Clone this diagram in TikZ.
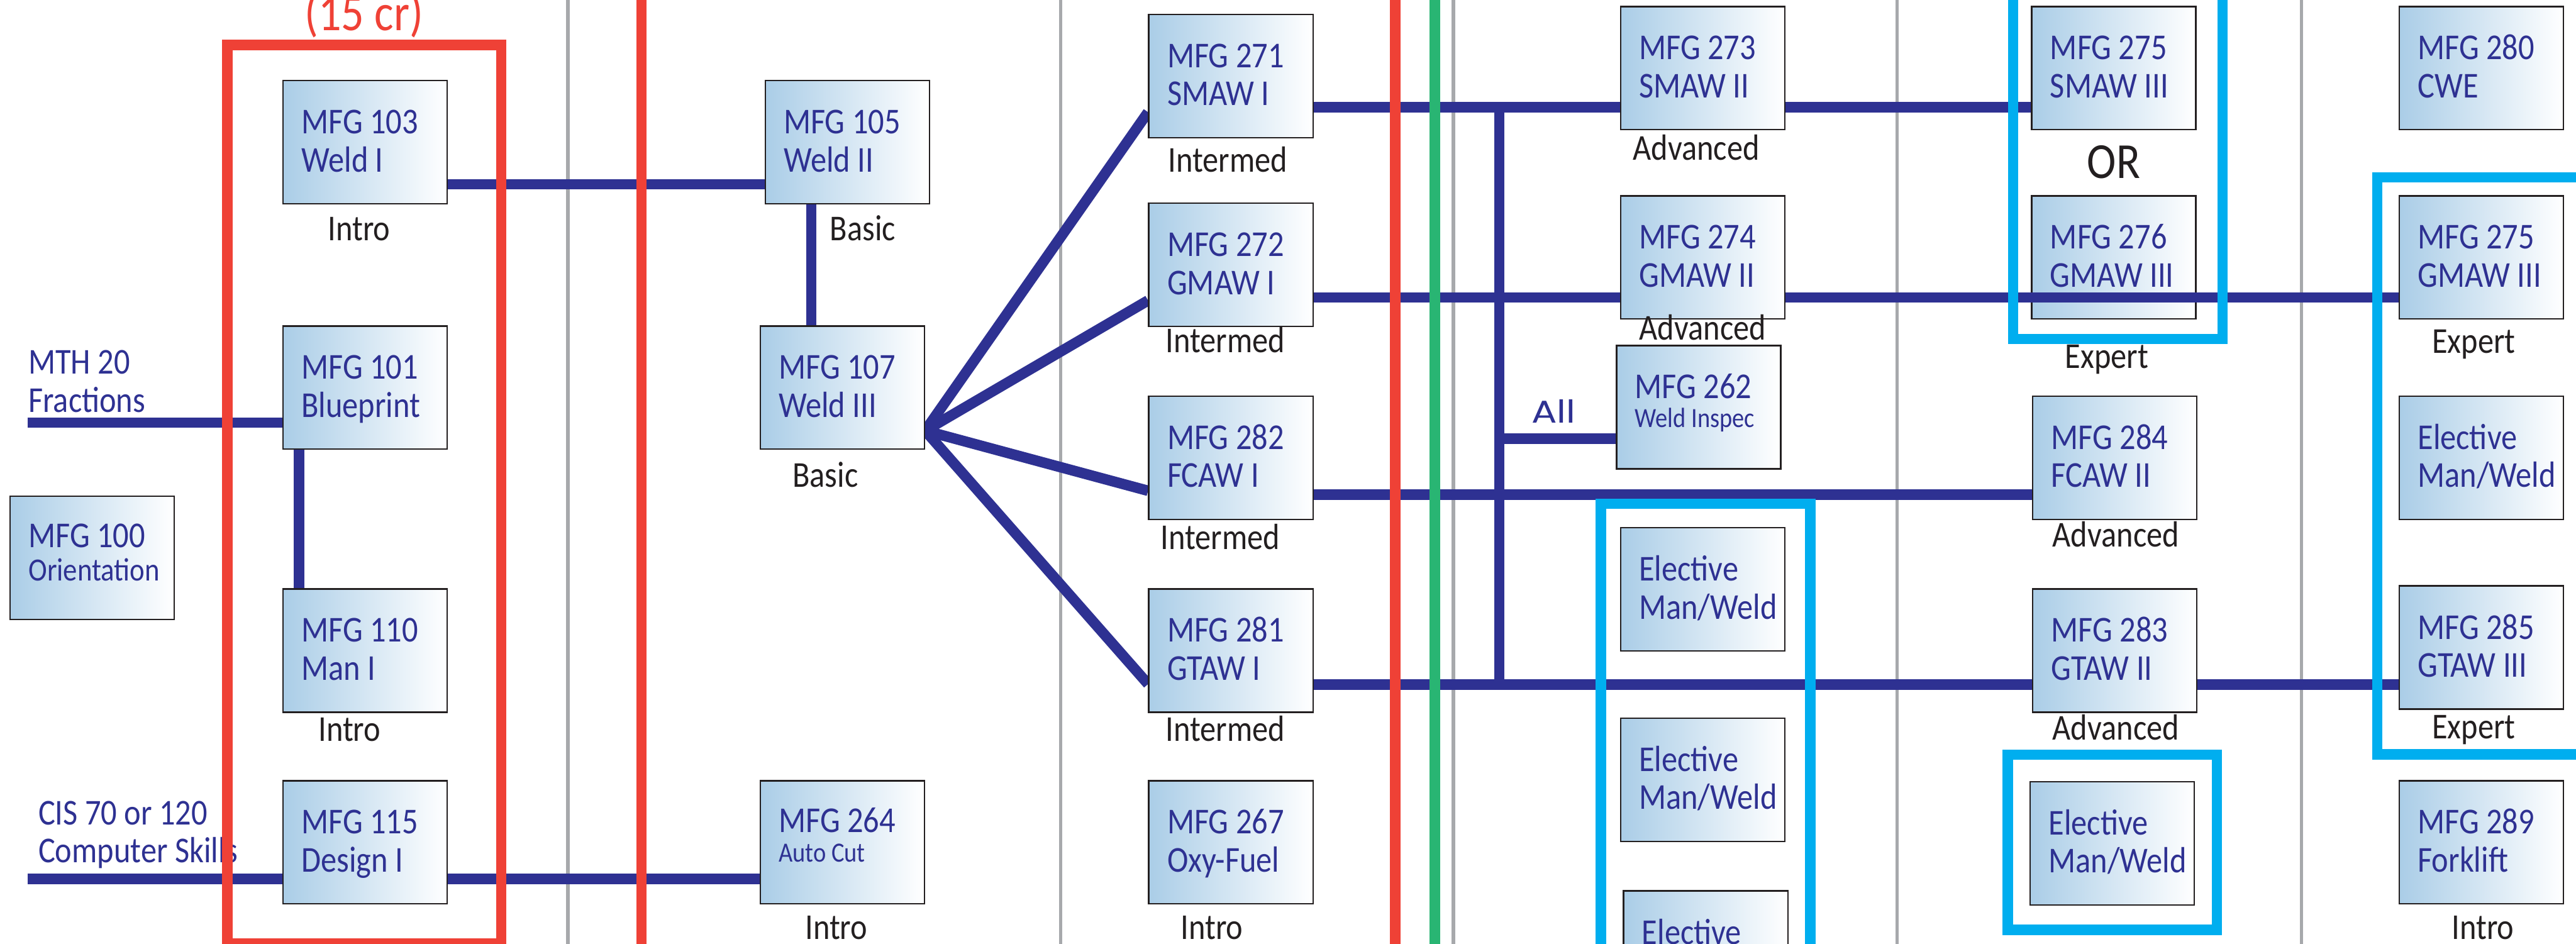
\documentclass[tikz,border=0pt]{standalone}
\usepackage{fontspec}
\usetikzlibrary{backgrounds}
\newfontfamily\boxfont{Carlito}[FakeStretch=0.87]
\newfontfamily\allfont{Poppins}[FakeStretch=1.2]
\definecolor{mfgblue}{RGB}{46,49,146}
\definecolor{boxblue}{RGB}{170,205,231}
\definecolor{boxline}{RGB}{35,31,32}
\definecolor{credred}{RGB}{239,65,54}
\definecolor{elecyan}{RGB}{0,174,239}
\definecolor{termgreen}{RGB}{41,181,115}
\definecolor{divgray}{RGB}{167,169,172}
\newcommand{\boxsize}{\fontsize{20.7}{21.6}\selectfont}

\begin{document}
\begin{tikzpicture}[x=1cm, y=-1cm]
    \tikzstyle{course} = [draw=boxline, line width=0.03cm, left color=boxblue, right color=white, minimum width=3.28cm, minimum height=2.46cm, inner xsep=0.37cm, inner ysep=0pt, text width=2.54cm, align=flush left, text=mfgblue, font=\boxfont\boxsize, execute at begin node={\rule{0pt}{.59cm}}, execute at end node={\rule[-.17cm]{0pt}{.17cm}}]
    \tikzstyle{stage} = [anchor=base, inner sep=0pt, text=boxline, font=\boxfont\boxsize]
    \tikzstyle{link} = [draw=mfgblue, line width=0.21cm]
    \tikzstyle{divider} = [draw=divgray, line width=0.07cm]
    \tikzstyle{redbox} = [draw=credred, line width=0.21cm]
    \tikzstyle{cyanbox} = [draw=elecyan, line width=0.21cm]

    \useasboundingbox (0,0) rectangle (51.44,18.85);
    \clip (0,0) rectangle (51.44,18.85);

    % First term
    \node[course] (n100) at (1.84,11.14) {MFG 100\\[-.09cm]{\fontsize{18.4}{18.4}\selectfont Orientation\rule[-.34cm]{0pt}{0pt}}};
    \node[course] (n103) at (7.29,2.84) {MFG 103\\Weld I};
    \node[course] (n101) at (7.29,7.74) {MFG 101\\Blueprint};
    \node[course] (n110) at (7.29,12.99) {MFG 110\\Man I};
    \node[course] (n115) at (7.29,16.82) {MFG 115\\Design I};

    % Second term
    \node[course] (n105) at (16.92,2.84) {MFG 105\\Weld II};
    \node[course] (n107) at (16.82,7.74) {MFG 107\\Weld III};
    \node[course] (n264) at (16.82,16.82) {MFG 264\\[-.17cm]{\fontsize{15.8}{15.8}\selectfont Auto~Cut\rule[-.40cm]{0pt}{0pt}}};

    % Third term
    \node[course] (n271) at (24.58,1.52) {MFG 271\\SMAW I};
    \node[course] (n272) at (24.58,5.29) {MFG 272\\GMAW I};
    \node[course] (n282) at (24.58,9.14) {MFG 282\\FCAW I};
    \node[course] (n281) at (24.58,12.99) {MFG 281\\GTAW I};
    \node[course] (n267) at (24.58,16.82) {MFG 267\\Oxy-Fuel};

    % Fourth term
    \node[course] (n273) at (34.00,1.36) {MFG 273\\SMAW II};
    \node[course] (n274) at (34.00,5.14) {MFG 274\\GMAW II};
    \node[course] (n262) at (33.92,8.13) {MFG 262\\[-.17cm]{\fontsize{15.8}{15.8}\selectfont Weld~Inspec\rule[-.36cm]{0pt}{0pt}}};
    \node[course] (el1) at (34.00,11.77) {Elective\\Man/Weld};
    \node[course] (el2) at (34.00,15.57) {Elective\\Man/Weld};
    \node[course] (el3) at (34.06,19.02) {Elective\\Man/Weld};

    % Fifth term
    \node[course] (n275s) at (42.21,1.36) {MFG 275\\SMAW~III};
    \node[course] (n276) at (42.21,5.14) {MFG 276\\GMAW~III};
    \node[course] (n284) at (42.23,9.14) {MFG 284\\FCAW II};
    \node[course] (n283) at (42.23,12.99) {MFG 283\\GTAW II};
    \node[course] (el4) at (42.18,16.84) {Elective\\Man/Weld};

    % Sixth term
    \node[course] (n280) at (49.55,1.36) {MFG 280\\CWE};
    \node[course] (n275g) at (49.55,5.14) {MFG 275\\GMAW~III};
    \node[course] (el5) at (49.55,9.14) {Elective\\Man/Weld};
    \node[course] (n285) at (49.55,12.93) {MFG 285\\GTAW~III};
    \node[course] (n289) at (49.55,16.82) {MFG 289\\Forklift};

    % Prerequisites and notes
    \node[anchor=north west, inner sep=0pt, align=left, text=mfgblue, font=\boxfont\boxsize] (mthtext) at (0.56,6.99) {MTH 20\\Fractions};
    \node[anchor=north west, inner sep=0pt, align=left, text=mfgblue, font=\boxfont\boxsize] (cistext) at (0.76,15.99) {CIS 70 or 120\\Computer Skills};
    \node[anchor=base, inner sep=0pt, text=credred, font=\boxfont\fontsize{29.6}{30}\selectfont] (credits) at (7.27,0.61) {(15 cr)};
    \node[stage, font=\boxfont\fontsize{28.7}{29}\selectfont] (ortext) at ([yshift=-.96cm]n275s.south) {OR};
    \node[anchor=base, inner sep=0pt, text=mfgblue, font=\allfont\fontsize{17.9}{18}\selectfont] (alltext) at (31.02,8.44) {All};

    % Levels
    \node[stage] (s103) at ([xshift=-.12cm, yshift=-.72cm]n103.south) {Intro};
    \node[stage] (s110) at ([xshift=-.31cm, yshift=-.57cm]n110.south) {Intro};
    \node[stage] (s105) at ([xshift=.31cm, yshift=-.72cm]n105.south) {Basic};
    \node[stage] (s107) at ([xshift=-.34cm, yshift=-.74cm]n107.south) {Basic};
    \node[stage] (s264) at ([xshift=-.12cm, yshift=-.69cm]n264.south) {Intro};
    \node[stage] (s271) at ([xshift=-.06cm, yshift=-.67cm]n271.south) {Intermed};
    \node[stage] (s272) at ([xshift=-.11cm, yshift=-.50cm]n272.south) {Intermed};
    \node[stage] (s282) at ([xshift=-.21cm, yshift=-.59cm]n282.south) {Intermed};
    \node[stage] (s281) at ([xshift=-.11cm, yshift=-.57cm]n281.south) {Intermed};
    \node[stage] (s267) at ([xshift=-.38cm, yshift=-.69cm]n267.south) {Intro};
    \node[stage] (s273) at ([xshift=-.13cm, yshift=-.59cm]n273.south) {Advanced};
    \node[stage] (s274) at ([yshift=-.40cm]n274.south) {Advanced};
    \node[stage] (s284) at ([xshift=.02cm, yshift=-.53cm]n284.south) {Advanced};
    \node[stage] (s283) at ([xshift=.02cm, yshift=-.54cm]n283.south) {Advanced};
    \node[stage] (s276) at ([xshift=-.14cm, yshift=-.97cm]n276.south) {Expert};
    \node[stage] (s275g) at ([xshift=-.15cm, yshift=-.67cm]n275g.south) {Expert};
    \node[stage] (s285) at ([xshift=-.15cm, yshift=-.58cm]n285.south) {Expert};
    \node[stage] (s289) at ([xshift=.03cm, yshift=-.69cm]n289.south) {Intro};

    % Line heights and free ends
    \coordinate (lvlA) at (0,2.14);
    \coordinate (lvlB) at (0,5.94);
    \coordinate (lvlC) at (0,9.88);
    \coordinate (lvlD) at (0,13.67);
    \coordinate (lvlE) at (0,3.68);
    \coordinate (lvlF) at (0,8.44);
    \coordinate (lvlG) at (0,17.55);
    \coordinate (lvlH) at (0,8.76);
    \coordinate (spine) at (29.94,0);
    \coordinate (mthend) at (0.55,8.44);
    \coordinate (cisend) at (0.55,17.55);
    \coordinate (fan) at ([yshift=-.86cm]n107.east);

    % Links (behind the boxes)
    \begin{scope}[on background layer]
        \foreach \gx in {11.34, 21.18, 29.02, 37.88, 45.96}
            \draw[divider] (\gx,0) -- (\gx,18.85);
        \path[link]
            (mthend) edge (n101.west |- lvlF)
            (cisend) edge (n264.west |- lvlG)
            (n103.east |- lvlE) edge (n105.west |- lvlE)
            ([xshift=-1.32cm]n101.south) edge ([xshift=-1.32cm]n110.north)
            ([xshift=-.72cm]n105.south) edge ([xshift=-.72cm]n105.south |- n107.north)
            (fan) edge ([yshift=-.72cm]n271.west)
            (fan) edge ([yshift=-.71cm]n272.west)
            (fan) edge ([yshift=-.66cm]n282.west)
            (fan) edge ([yshift=-.67cm]n281.west)
            (n271.east |- lvlA) edge (n275s.west |- lvlA)
            (n272.east |- lvlB) edge (n274.west |- lvlB)
            (n282.east |- lvlC) edge (n284.west |- lvlC)
            (n281.east |- lvlD) edge (n283.west |- lvlD)
            (n283.east |- lvlD) edge (n285.west |- lvlD)
            (spine |- lvlA) edge (spine |- lvlD)
            (spine |- lvlH) edge (n262.west |- lvlH);
    \end{scope}

    % This one runs over MFG 276
    \path[link] (n274.east |- lvlB) edge (n275g.west |- lvlB);

    % Groups
    \draw[redbox] (4.54,0.90) rectangle (10.01,18.84);
    \draw[cyanbox] (40.20,-0.50) rectangle (44.38,6.77);
    \draw[cyanbox] (31.97,10.06) rectangle (36.15,19.50);
    \draw[cyanbox] (40.09,15.07) rectangle (44.27,18.57);
    \draw[cyanbox] (47.47,3.54) rectangle (52.50,15.06);

    % Term marks
    \draw[redbox] (12.81,0) -- (12.81,18.85);
    \draw[redbox] (27.86,0) -- (27.86,18.85);
    \draw[draw=termgreen, line width=0.21cm] (28.65,0) -- (28.65,18.85);
\end{tikzpicture}
\end{document}
